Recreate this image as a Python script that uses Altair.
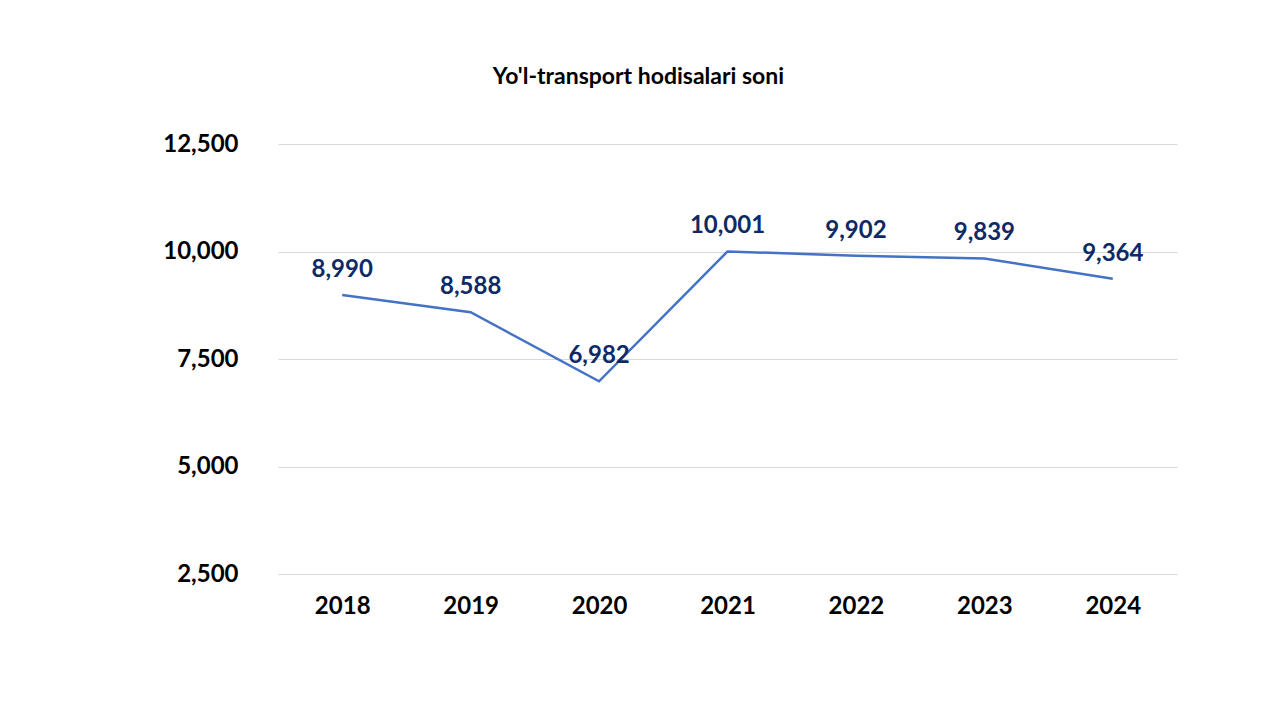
import altair as alt
import pandas as pd

years = ["2018", "2019", "2020", "2021", "2022", "2023", "2024"]
values = [8990, 8588, 6982, 10001, 9902, 9839, 9364]
labels = ["8,990", "8,588", "6,982", "10,001", "9,902", "9,839", "9,364"]
y_ticks = [2500, 5000, 7500, 10000, 12500]

df = pd.DataFrame({"year": years, "value": values, "label": labels})

FONT = "Lato"

x = alt.X("year:N", sort=years, title=None,
          scale=alt.Scale(paddingInner=0, paddingOuter=0.5),
          axis=alt.Axis(labelAngle=0, labelFont=FONT, labelFontSize=24, labelFontWeight="bold",
                        labelColor="#000000", ticks=False, domain=False, labelPadding=20, grid=False))
y = alt.Y("value:Q", title=None,
          scale=alt.Scale(domain=[2500, 12500], nice=False, zero=False),
          axis=alt.Axis(values=y_ticks, format=",.0f", labelFont=FONT, labelFontSize=24,
                        labelFontWeight="bold", labelColor="#000000", ticks=False, domain=False,
                        labelPadding=40, grid=True, gridColor="#D9D9D9", gridWidth=1))

line = alt.Chart(df).mark_line(color="#4472C4", strokeWidth=2.5).encode(x=x, y=y)
text = alt.Chart(df).mark_text(font=FONT, fontSize=24, fontWeight="bold", color="#0E2A66",
                               dy=-25).encode(x=x, y=y, text="label:N")

chart = (line + text).properties(
    width=899, height=430,
    background="#FFFFFF",
    title=alt.TitleParams("Yo'l-transport hodisalari soni", font=FONT, fontSize=23,
                          fontWeight="bold", color="#000000", anchor="middle", dx=-89, offset=43),
    autosize=alt.AutoSizeParams(type="none"),
    padding={"left": 270, "top": 136, "right": 95, "bottom": 130},
).configure_view(strokeWidth=0, stroke=None)

chart.save("out.html", embed_options={"renderer": "svg", "actions": False})
